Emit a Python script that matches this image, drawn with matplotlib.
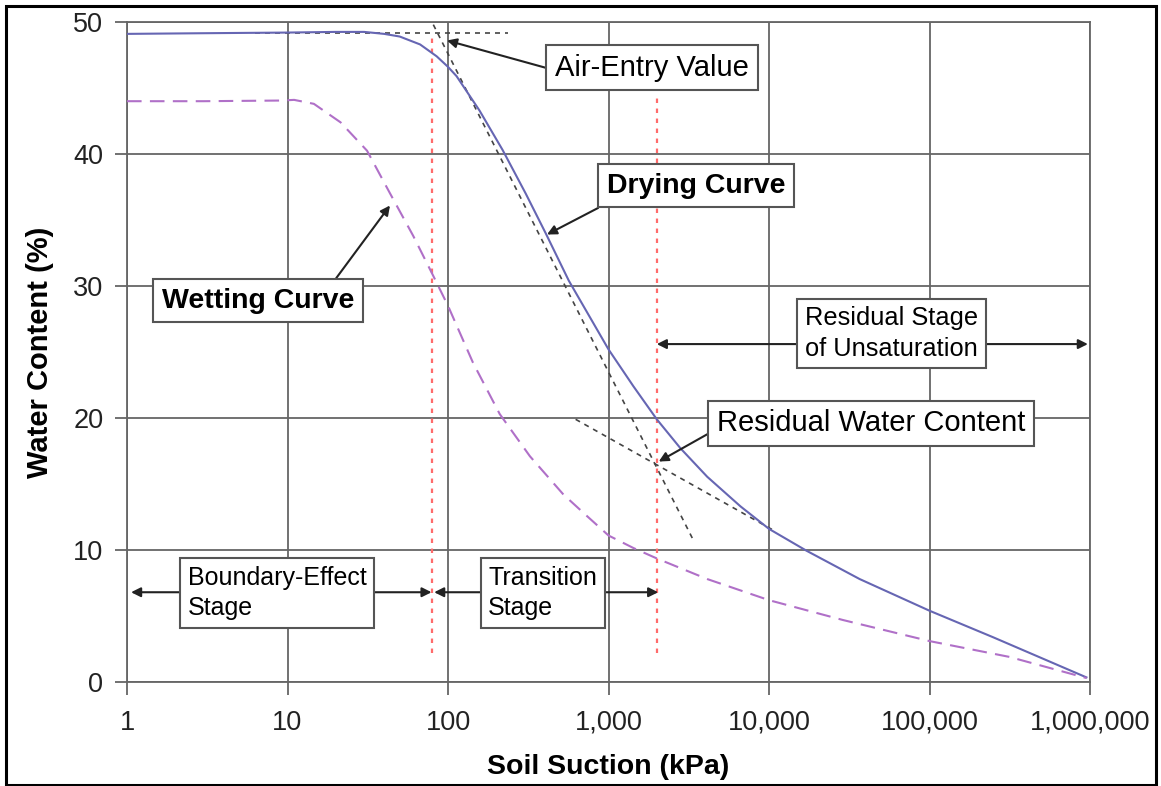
import numpy as np
import matplotlib.pyplot as plt
from matplotlib.patches import Rectangle
from matplotlib.ticker import FixedLocator, FuncFormatter, NullLocator

plt.rcParams['font.family'] = ['Liberation Sans', 'DejaVu Sans']

# soil-water characteristic curves, suction in kPa, water content in %
dry_suction = [1, 3, 10, 20, 30, 40, 50, 67, 85, 100, 113, 157, 219, 305, 406, 566,
               1000, 1430, 2000, 2810, 4120, 6650, 10000, 17100, 36700, 100000, 248000, 950000]
dry_water = [49.1, 49.15, 49.2, 49.25, 49.25, 49.1, 48.9, 48.3, 47.4, 46.6, 45.9, 43.3, 40.3, 37.0, 34.0, 30.4,
             25.2, 22.4, 19.9, 17.7, 15.55, 13.3, 11.6, 9.95, 7.8, 5.4, 3.4, 0.35]
wet_suction = [1, 3, 9.1, 11, 14.6, 21.4, 31.3, 43.6, 60.7, 80.7, 100, 143, 210, 324, 524, 730,
               1000, 1430, 2000, 4120, 10000, 28800, 100000, 315000, 950000]
wet_water = [44.0, 44.0, 44.05, 44.1, 43.8, 42.4, 40.25, 37.0, 33.8, 30.8, 28.5, 24.2, 20.3, 17.1, 14.2, 12.6,
             11.1, 10.15, 9.36, 7.8, 6.2, 4.7, 3.1, 1.9, 0.3]

# construction lines for air-entry value and residual water content
flat_s = [6.3, 237]
flat_w = [49.2, 49.2]
steep_s = [81, 3360]
steep_w = [49.8, 10.8]
resid_s = [624, 11000]
resid_w = [19.9, 11.4]

# stage boundaries
bound_s = [80, 2000]
bound_top = [48.9, 44.6]
bound_bottom = 2.2

xticks = [1, 10, 100, 1000, 10000, 100000, 1000000]
yticks = [0, 10, 20, 30, 40, 50]

fig = plt.figure(figsize=(11.61, 7.86), dpi=100)
ax = fig.add_axes([127/1161, 1-682/786, (1090-127)/1161, (682-22)/786])
ax.set_xscale('log')
ax.set_xlim(1, 1e6)
ax.set_ylim(0, 50)

gridc = '#666666'
ax.xaxis.set_major_locator(FixedLocator(xticks))
ax.xaxis.set_minor_locator(NullLocator())
ax.xaxis.set_major_formatter(FuncFormatter(lambda v, p: f'{int(round(v)):,}'))
ax.set_yticks(yticks)
ax.grid(True, color=gridc, lw=1.3)
for sp in ax.spines.values():
    sp.set_color(gridc)
    sp.set_linewidth(1.3)
ax.tick_params(axis='both', direction='out', length=9, width=1.3, color=gridc,
               labelsize=19.5, labelcolor='#222222')
ax.tick_params(axis='x', pad=11)
ax.tick_params(axis='y', pad=8)

ax.set_xlabel('Soil Suction (kPa)', fontsize=20.5, fontweight='bold', labelpad=13)
ax.set_ylabel('Water Content (%)', fontsize=21, fontweight='bold', labelpad=14)

ax.plot(dry_suction, dry_water, color='#6666b3', lw=1.5, zorder=4)
ax.plot(wet_suction, wet_water, color='#b070c8', lw=1.5, dashes=(7, 4), zorder=4)

for s, w in [(flat_s, flat_w), (steep_s, steep_w), (resid_s, resid_w)]:
    ax.plot(s, w, color='#444444', lw=1.2, dashes=(3, 3), zorder=3)

for s, top in zip(bound_s, bound_top):
    ax.plot([s, s], [bound_bottom, top], color='#ff6b6b', lw=1.6, dashes=(2, 2.5), zorder=3)

box = dict(boxstyle='square,pad=0.3', fc='white', ec='#555555', lw=1.5)
arr = dict(arrowstyle='-|>', color='#222222', lw=1.5, mutation_scale=14, shrinkA=0, shrinkB=0)
darr = dict(arrowstyle='<|-|>', color='#222222', lw=1.5, mutation_scale=14, shrinkA=0, shrinkB=0)

# call-outs
ax.annotate('Air-Entry Value', xy=(98.6, 48.6), xytext=(464, 46.55), fontsize=21,
            ha='left', va='center', bbox=box, zorder=6,
            arrowprops=dict(arr, relpos=(0, 0.4)))
ax.annotate('Drying Curve', xy=(414, 33.9), xytext=(979, 37.6), fontsize=20.5,
            fontweight='bold', ha='left', va='center', bbox=box, zorder=6,
            arrowprops=dict(arr, relpos=(0.05, 0)))
ax.annotate('Wetting Curve', xy=(43.5, 36.1), xytext=(1.65, 28.9), fontsize=20.5,
            fontweight='bold', ha='left', va='center', bbox=box, zorder=6,
            arrowprops=dict(arr, relpos=(0.87, 1)))
ax.annotate('Residual Water Content', xy=(2056, 16.7), xytext=(4730, 19.6), fontsize=21,
            ha='left', va='center', bbox=box, zorder=6,
            arrowprops=dict(arr, relpos=(0, 0.3)))

# stage extents
ax.annotate('', xy=(2000, 25.6), xytext=(9.7e5, 25.6), arrowprops=darr, zorder=5)
ax.text(16750, 26.4, 'Residual Stage\nof Unsaturation', fontsize=18.3, ha='left',
        va='center', linespacing=1.35, bbox=dict(box, pad=0.3), zorder=6)
ax.annotate('', xy=(1.06, 6.8), xytext=(79, 6.8), arrowprops=darr, zorder=5)
ax.text(2.39, 6.74, 'Boundary-Effect\nStage', fontsize=18, ha='left',
        va='center', linespacing=1.35, bbox=dict(box, pad=0.3), zorder=6)
ax.annotate('', xy=(82, 6.8), xytext=(2040, 6.8), arrowprops=darr, zorder=5)
ax.text(178, 6.74, 'Transition\nStage', fontsize=18, ha='left',
        va='center', linespacing=1.35, bbox=dict(box, pad=0.3), zorder=6)

# frame round the whole figure
fig.patches.append(Rectangle((6/1161, 1.5/786), 1150/1161, 778.5/786, transform=fig.transFigure,
                             fill=False, ec='black', lw=2.2))

fig.savefig('out.png', dpi=100)
